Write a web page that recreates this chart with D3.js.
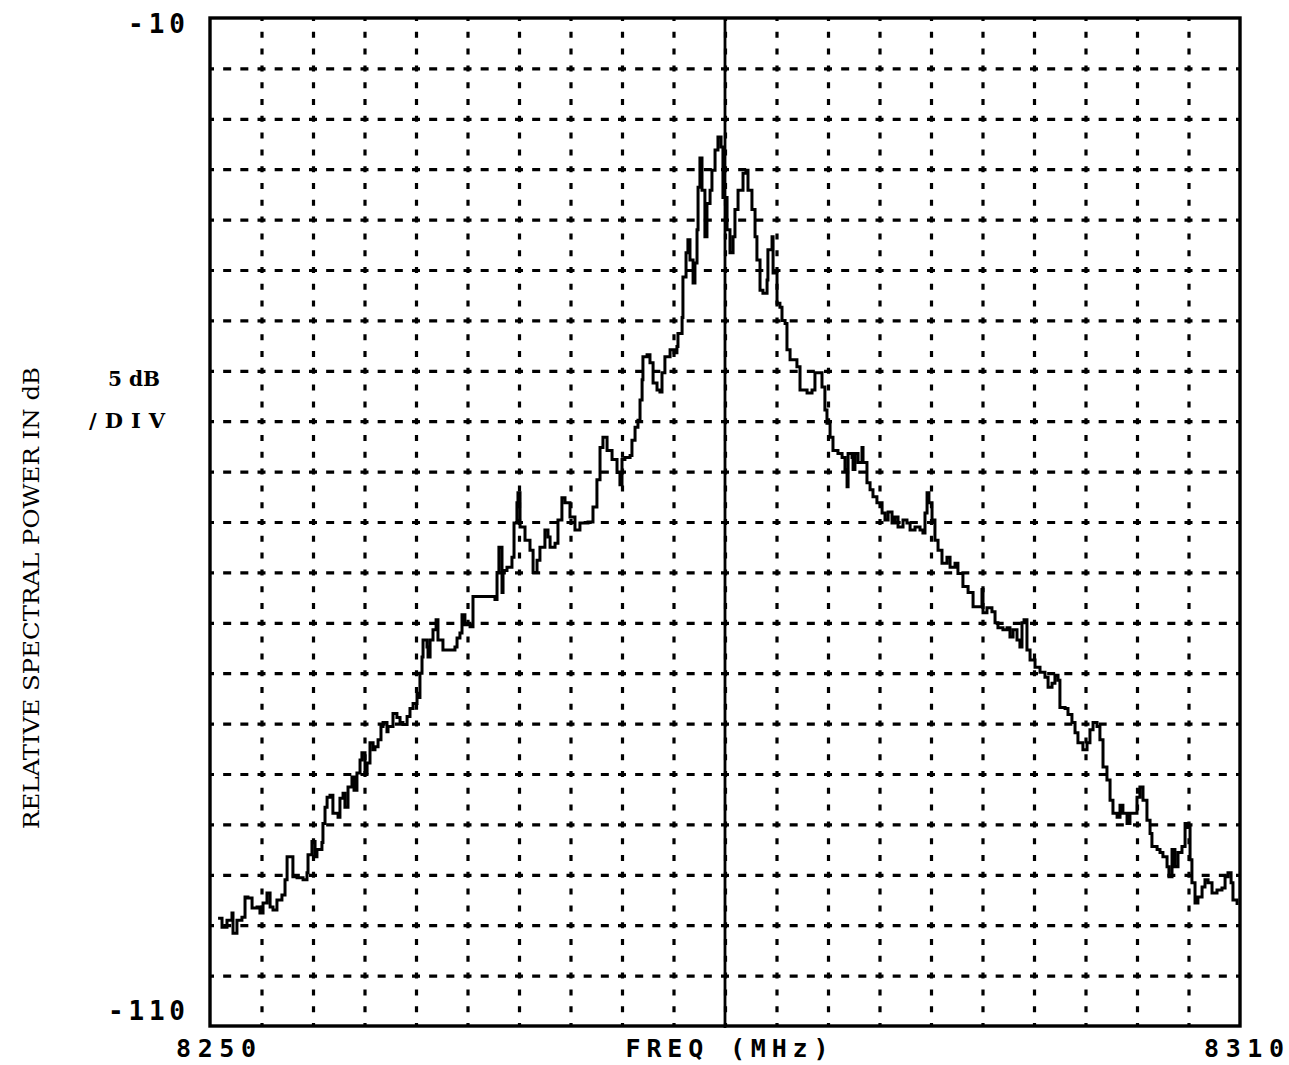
<!DOCTYPE html>
<html>
<head>
<meta charset="utf-8">
<script src="https://cdn.jsdelivr.net/npm/d3@7"></script>
<style>
  html, body { margin: 0; padding: 0; background: #fff; }
  svg { display: block; }
  .plot-label { font-family: "DejaVu Sans Mono", monospace; font-weight: bold; fill: #000; }
  .type-label { font-family: "DejaVu Serif", "Liberation Serif", serif; fill: #000; }
</style>
</head>
<body>
<svg id="chart" width="1289" height="1065"></svg>
<script>
// Spectrum analyser sweep: frequency (MHz) and relative spectral power (dB)
const freqMHz = [
  8250.47, 8250.70, 8250.99, 8251.28, 8251.34, 8251.57, 8251.86, 8252.04, 8252.21, 8252.45,
  8252.74, 8252.91, 8253.09, 8253.32, 8253.50, 8253.67, 8253.90, 8254.19, 8254.37, 8254.49,
  8254.66, 8254.83, 8255.07, 8255.42, 8255.65, 8255.71, 8255.94, 8256.12, 8256.23, 8256.52,
  8256.58, 8256.70, 8256.82, 8256.99, 8257.16, 8257.46, 8257.57, 8257.75, 8257.86, 8258.04,
  8258.27, 8258.39, 8258.56, 8258.74, 8258.85, 8259.03, 8259.15, 8259.32, 8259.50, 8259.61,
  8259.79, 8259.96, 8260.08, 8260.31, 8260.37, 8260.66, 8260.89, 8261.07, 8261.24, 8261.48,
  8261.65, 8261.83, 8262.06, 8262.17, 8262.23, 8262.35, 8262.41, 8262.64, 8262.70, 8262.82,
  8262.99, 8263.17, 8263.28, 8263.57, 8263.98, 8264.27, 8264.39, 8264.56, 8264.68, 8264.85,
  8265.15, 8265.32, 8266.02, 8266.60, 8266.72, 8266.83, 8267.01, 8267.07, 8267.30, 8267.59,
  8267.71, 8267.88, 8267.94, 8268.06, 8268.35, 8268.64, 8268.82, 8269.05, 8269.22, 8269.51,
  8269.69, 8269.81, 8270.10, 8270.27, 8270.50, 8270.68, 8270.97, 8271.26, 8271.55, 8272.02,
  8272.31, 8272.54, 8272.72, 8272.89, 8273.13, 8273.42, 8273.71, 8273.88, 8274.00, 8274.17,
  8274.47, 8274.58, 8274.76, 8274.93, 8275.05, 8275.17, 8275.22, 8275.46, 8275.63, 8275.81,
  8276.04, 8276.21, 8276.33, 8276.50, 8276.80, 8277.03, 8277.20, 8277.26, 8277.50, 8277.55,
  8277.73, 8277.84, 8277.96, 8278.14, 8278.25, 8278.37, 8278.43, 8278.54, 8278.66, 8278.83,
  8278.95, 8279.13, 8279.24, 8279.42, 8279.59, 8279.77, 8279.88, 8280.12, 8280.29, 8280.47,
  8280.58, 8280.76, 8281.05, 8281.22, 8281.34, 8281.57, 8281.75, 8281.86, 8282.04, 8282.21,
  8282.45, 8282.50, 8282.74, 8282.80, 8283.03, 8283.20, 8283.32, 8283.50, 8283.61, 8283.79,
  8283.96, 8284.19, 8284.37, 8284.78, 8285.07, 8285.24, 8285.42, 8285.65, 8285.82, 8285.94,
  8286.12, 8286.29, 8286.58, 8286.82, 8286.99, 8287.11, 8287.17, 8287.40, 8287.46, 8287.57,
  8287.75, 8287.98, 8288.04, 8288.27, 8288.45, 8288.62, 8288.85, 8289.15, 8289.32, 8289.50,
  8289.73, 8289.90, 8290.08, 8290.37, 8290.60, 8290.78, 8291.07, 8291.36, 8291.53, 8291.65,
  8291.77, 8291.88, 8292.06, 8292.23, 8292.41, 8292.64, 8292.93, 8293.11, 8293.40, 8293.57,
  8293.86, 8294.16, 8294.45, 8294.85, 8294.97, 8295.03, 8295.26, 8295.55, 8295.73, 8295.90,
  8296.19, 8296.43, 8296.60, 8296.78, 8297.01, 8297.18, 8297.30, 8297.42, 8297.59, 8297.77,
  8298.06, 8298.35, 8298.64, 8298.82, 8299.05, 8299.22, 8299.40, 8299.51, 8299.81, 8299.98,
  8300.21, 8300.39, 8300.56, 8300.85, 8301.09, 8301.26, 8301.44, 8301.67, 8301.84, 8302.02,
  8302.25, 8302.43, 8302.60, 8302.84, 8303.01, 8303.18, 8303.42, 8303.59, 8303.77, 8304.00,
  8304.17, 8304.35, 8304.58, 8304.76, 8304.87, 8305.17, 8305.34, 8305.51, 8305.75, 8305.86,
  8306.04, 8306.21, 8306.39, 8306.62, 8306.80, 8306.97, 8307.09, 8307.20, 8307.38, 8307.55,
  8307.79, 8307.96, 8308.14, 8308.37, 8308.66, 8308.95, 8309.13, 8309.30, 8309.48, 8309.59,
  8309.83
];

const powerDb = [
  -99.3, -100.2, -99.5, -98.8, -100.8, -99.5, -99.2, -97.2, -97.3, -98.3,
  -98.2, -98.8, -97.8, -96.8, -98.2, -98.5, -97.5, -97.0, -95.5, -93.2,
  -93.2, -95.2, -95.3, -95.5, -94.8, -93.0, -91.7, -93.2, -92.5, -91.8,
  -89.9, -88.3, -87.3, -87.1, -88.9, -89.3, -87.4, -86.9, -88.3, -86.3,
  -85.3, -86.6, -84.9, -83.6, -82.9, -84.9, -83.9, -81.9, -82.6, -82.3,
  -81.6, -80.3, -79.9, -80.8, -80.3, -79.0, -79.4, -79.9, -80.1, -79.3,
  -78.5, -78.0, -77.0, -77.4, -75.0, -73.4, -71.7, -72.4, -73.4, -71.7,
  -70.7, -69.7, -71.7, -72.7, -72.7, -72.4, -71.5, -71.0, -69.2, -70.2,
  -70.4, -67.4, -67.4, -67.7, -65.0, -62.5, -67.0, -64.8, -64.5, -63.5,
  -60.1, -58.1, -57.1, -60.5, -61.8, -62.8, -65.0, -63.8, -62.5, -60.8,
  -61.5, -62.5, -62.1, -59.8, -57.6, -58.1, -59.5, -60.8, -60.1, -60.0,
  -58.5, -55.8, -52.6, -51.6, -52.9, -53.8, -55.1, -56.3, -53.8, -53.6,
  -53.4, -51.9, -50.6, -49.9, -47.9, -45.9, -43.6, -43.4, -44.2, -46.2,
  -46.9, -47.1, -45.2, -43.6, -42.9, -43.2, -42.6, -41.3, -39.7, -35.7,
  -33.3, -32.0, -34.0, -36.3, -34.3, -31.0, -26.8, -23.9, -27.1, -31.7,
  -28.4, -27.1, -25.1, -23.1, -21.8, -22.8, -27.8, -31.0, -33.3, -31.7,
  -29.0, -27.1, -25.4, -25.1, -27.1, -29.0, -31.7, -34.0, -37.0, -37.3,
  -36.0, -33.0, -31.7, -35.3, -38.3, -38.7, -40.0, -40.3, -42.9, -43.9,
  -43.9, -44.6, -46.9, -47.2, -46.9, -45.2, -45.2, -46.6, -48.9, -50.2,
  -51.6, -52.9, -53.2, -53.6, -54.8, -56.5, -53.2, -53.6, -54.8, -53.2,
  -54.1, -52.6, -54.1, -56.1, -56.8, -57.5, -58.1, -59.1, -59.8, -59.0,
  -60.1, -59.5, -60.5, -59.8, -60.1, -60.8, -60.5, -60.8, -61.1, -59.1,
  -57.1, -58.1, -59.8, -61.8, -62.8, -64.1, -63.5, -64.5, -64.1, -65.1,
  -66.4, -67.0, -68.4, -68.4, -66.7, -69.0, -68.5, -68.9, -70.0, -70.5,
  -70.7, -70.5, -71.4, -70.7, -71.7, -72.4, -70.0, -69.7, -72.7, -73.7,
  -74.4, -74.9, -75.4, -76.4, -76.0, -75.2, -75.7, -78.4, -78.5, -79.1,
  -79.9, -80.9, -81.9, -82.6, -81.9, -80.6, -79.9, -80.3, -81.6, -84.3,
  -85.6, -87.6, -88.9, -89.3, -88.1, -88.9, -89.9, -88.9, -88.9, -87.3,
  -86.3, -87.6, -89.6, -90.9, -92.2, -92.5, -92.8, -93.2, -94.2, -95.2,
  -92.5, -94.2, -92.8, -92.2, -89.9, -90.3, -93.5, -95.8, -97.8, -97.2,
  -96.2, -95.5, -95.8, -96.8, -96.5, -96.3, -95.2, -94.8, -95.8, -97.5,
  -98.0
];

// Axis extents, graticule spacing and printed labels
const freqDomain = [8250, 8310];
const dbDomain = [-110, -10];
const freqPerDiv = 3;      // MHz per horizontal division
const dbPerDiv = 5;        // dB per vertical division
const centerFreq = 8280;
const freqTickLabels = [8250, 8310];
const dbTickLabels = [-10, -110];
const freqAxisTitle = "FREQ (MHz)";
const dbAxisTitle = "RELATIVE SPECTRAL POWER IN dB";
const scaleNote = ["5 dB", "/DIV"];

const margin = { left: 210, top: 18 };
const width = 1030, height = 1008;

const svg = d3.select("#chart");
svg.append("rect").attr("width", 1289).attr("height", 1065).attr("fill", "#fff");

const g = svg.append("g").attr("transform", `translate(${margin.left},${margin.top})`);

const x = d3.scaleLinear().domain(freqDomain).range([0, width]);
const y = d3.scaleLinear().domain(dbDomain).range([height, 0]);

const divW = x(freqDomain[0] + freqPerDiv) - x(freqDomain[0]);
const divH = y(dbDomain[0]) - y(dbDomain[0] + dbPerDiv);

// Dotted graticule: a short dash at every crossing plus two between
const vGrid = g.append("g")
  .attr("transform", `translate(0,${height})`)
  .call(d3.axisBottom(x)
    .tickValues(d3.range(freqDomain[0] + freqPerDiv, freqDomain[1], freqPerDiv))
    .tickSize(-height).tickFormat(""));
vGrid.select(".domain").remove();
const vDash = 6;
vGrid.selectAll(".tick line")
  .attr("stroke", "#000").attr("stroke-width", 3.2)
  .attr("stroke-dasharray", `${vDash},${divH / 3 - vDash}`)
  .attr("stroke-dashoffset", vDash / 2);

const hGrid = g.append("g")
  .call(d3.axisLeft(y)
    .tickValues(d3.range(dbDomain[0] + dbPerDiv, dbDomain[1], dbPerDiv))
    .tickSize(-width).tickFormat(""));
hGrid.select(".domain").remove();
const hDash = 8;
hGrid.selectAll(".tick line")
  .attr("stroke", "#000").attr("stroke-width", 3.2)
  .attr("stroke-dasharray", `${hDash},${divW / 3 - hDash}`)
  .attr("stroke-dashoffset", hDash / 2);

// Centre-frequency marker
g.append("line")
  .attr("x1", x(centerFreq)).attr("x2", x(centerFreq))
  .attr("y1", 0).attr("y2", height + 2)
  .attr("stroke", "#000").attr("stroke-width", 2.8);

// Frame
g.append("rect")
  .attr("x", 0).attr("y", 0).attr("width", width).attr("height", height)
  .attr("fill", "none").attr("stroke", "#000").attr("stroke-width", 3.4);

// Spectrum trace
const trace = d3.zip(freqMHz, powerDb);
g.append("path")
  .datum(trace)
  .attr("fill", "none")
  .attr("stroke", "#000")
  .attr("stroke-width", 3)
  .attr("stroke-linejoin", "miter")
  .attr("d", d3.line().x(d => x(d[0])).y(d => y(d[1])).curve(d3.curveStepAfter));

// Level labels at the top and bottom of the screen
const dbOffsets = { "-10": 6, "-110": -15 };
g.selectAll(".db-label")
  .data(dbTickLabels)
  .join("text")
  .attr("class", "plot-label db-label")
  .attr("x", -25)
  .attr("y", d => y(d) + dbOffsets[d])
  .attr("dominant-baseline", "central")
  .attr("text-anchor", "end")
  .attr("font-size", 26)
  .attr("textLength", d => String(d).length * 20 - 3)
  .attr("lengthAdjust", "spacing")
  .text(d => String(d));

// Frequency labels under the frame
const labelBaseline = height + 31;
g.selectAll(".freq-label")
  .data(freqTickLabels)
  .join("text")
  .attr("class", "plot-label freq-label")
  .attr("x", d => x(d) + (d === freqDomain[0] ? 6 : 4))
  .attr("y", labelBaseline)
  .attr("text-anchor", "middle")
  .attr("font-size", 25)
  .attr("textLength", 80)
  .attr("lengthAdjust", "spacing")
  .text(d => String(d));

g.append("text")
  .attr("class", "plot-label")
  .attr("x", x(centerFreq) + 2)
  .attr("y", labelBaseline)
  .attr("text-anchor", "middle")
  .attr("font-size", 25)
  .attr("textLength", 203)
  .attr("lengthAdjust", "spacing")
  .text(freqAxisTitle);

// Vertical scale annotation
svg.append("text")
  .attr("class", "type-label")
  .attr("x", 134).attr("y", 386)
  .attr("text-anchor", "middle")
  .attr("font-size", 21)
  .attr("font-weight", "bold")
  .attr("textLength", 52)
  .attr("lengthAdjust", "spacingAndGlyphs")
  .text(scaleNote[0]);
svg.append("text")
  .attr("class", "type-label")
  .attr("x", 127).attr("y", 428)
  .attr("text-anchor", "middle")
  .attr("font-size", 21)
  .attr("font-weight", "bold")
  .attr("textLength", 76)
  .attr("lengthAdjust", "spacing")
  .text(scaleNote[1]);

// Rotated axis title
svg.append("text")
  .attr("class", "type-label")
  .attr("transform", "translate(39,598) rotate(-90)")
  .attr("text-anchor", "middle")
  .attr("font-size", 22)
  .attr("textLength", 462)
  .attr("lengthAdjust", "spacingAndGlyphs")
  .text(dbAxisTitle);
</script>
</body>
</html>
